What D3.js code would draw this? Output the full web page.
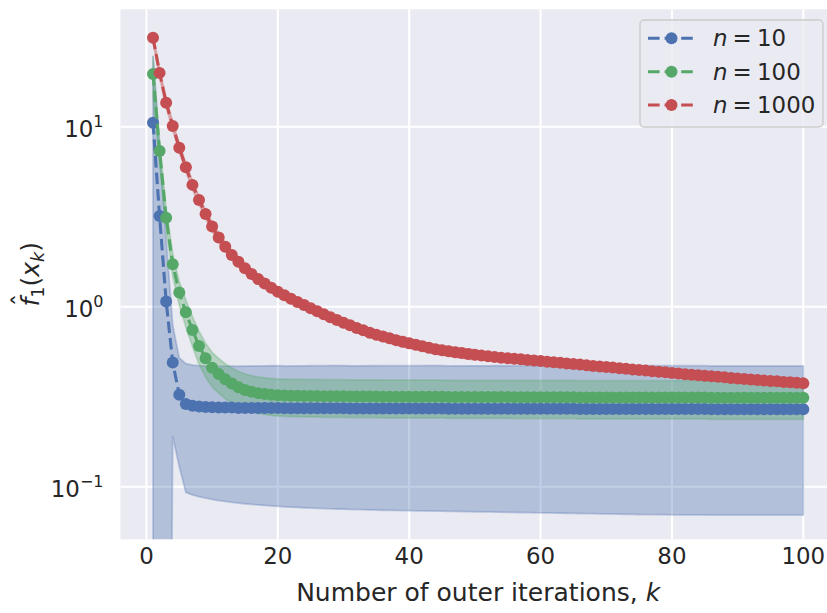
<!DOCTYPE html>
<html><head><meta charset="utf-8">
<script src="https://cdn.jsdelivr.net/npm/d3@7"></script>
<style>
body{margin:0;background:#fff}
svg{display:block}
text{font-family:"DejaVu Sans",sans-serif;fill:#262626}
</style>
</head><body>
<svg id="chart" width="827" height="613"></svg>
<script>
// ---------- data ----------
const iterations = [1,2,3,4,5,6,7,8,9,10,11,12,13,14,15,16,17,18,19,20,
21,22,23,24,25,26,27,28,29,30,31,32,33,34,35,36,37,38,39,40,
41,42,43,44,45,46,47,48,49,50,51,52,53,54,55,56,57,58,59,60,
61,62,63,64,65,66,67,68,69,70,71,72,73,74,75,76,77,78,79,80,
81,82,83,84,85,86,87,88,89,90,91,92,93,94,95,96,97,98,99,100];

const meanN10 = [10.5,3.19,1.07,0.49,0.324,0.288,0.282,0.279,0.277,0.276,
0.275,0.275,0.275,0.274,0.274,0.274,0.274,0.274,0.274,0.274,
0.273,0.273,0.273,0.273,0.273,0.273,0.273,0.273,0.273,0.273,
0.272,0.272,0.272,0.272,0.272,0.272,0.272,0.272,0.272,0.272,
0.272,0.272,0.272,0.272,0.272,0.271,0.271,0.271,0.271,0.271,
0.271,0.271,0.271,0.271,0.271,0.271,0.271,0.271,0.271,0.271,
0.271,0.271,0.271,0.271,0.271,0.270,0.270,0.270,0.270,0.270,
0.270,0.270,0.270,0.270,0.270,0.270,0.270,0.270,0.270,0.270,
0.270,0.270,0.270,0.270,0.270,0.269,0.269,0.269,0.269,0.269,
0.269,0.269,0.269,0.269,0.269,0.269,0.269,0.269,0.269,0.269];
const stdN10 = [14,4.5,1.3,0.30,0.195,0.195,0.192,0.191,0.1905,0.191,
0.1912,0.1922,0.1931,0.1929,0.1936,0.1942,0.1948,0.1953,0.1958,0.1962,
0.1956,0.1960,0.1963,0.1966,0.1969,0.1972,0.1974,0.1976,0.1978,0.1980,
0.1972,0.1974,0.1975,0.1977,0.1978,0.1980,0.1981,0.1982,0.1983,0.1984,
0.1985,0.1986,0.1987,0.1988,0.1989,0.1980,0.1981,0.1982,0.1983,0.1984,
0.1985,0.1986,0.1987,0.1988,0.1989,0.1990,0.1991,0.1992,0.1993,0.1994,
0.1995,0.1996,0.1997,0.1998,0.1999,0.1990,0.1991,0.1992,0.1993,0.1994,
0.1995,0.1996,0.1997,0.1998,0.1999,0.2000,0.2000,0.2001,0.2001,0.2002,
0.2002,0.2003,0.2003,0.2003,0.2003,0.1994,0.1994,0.1994,0.1994,0.1994,
0.1994,0.1994,0.1994,0.1994,0.1994,0.1994,0.1994,0.1994,0.1994,0.1994];

const meanN100 = [19.6,7.33,3.12,1.72,1.20,0.931,0.742,0.605,0.517,0.458,
0.423,0.395,0.374,0.357,0.345,0.337,0.331,0.327,0.324,0.322,
0.321,0.320,0.320,0.319,0.319,0.319,0.318,0.318,0.318,0.318,
0.317,0.317,0.317,0.317,0.317,0.316,0.316,0.316,0.316,0.316,
0.316,0.316,0.316,0.316,0.316,0.315,0.315,0.315,0.315,0.315,
0.315,0.315,0.315,0.315,0.315,0.314,0.314,0.314,0.314,0.314,
0.314,0.314,0.314,0.314,0.314,0.313,0.313,0.313,0.313,0.313,
0.313,0.313,0.313,0.313,0.313,0.313,0.313,0.313,0.313,0.313,
0.313,0.313,0.313,0.313,0.313,0.312,0.312,0.312,0.312,0.312,
0.312,0.312,0.312,0.312,0.312,0.312,0.312,0.312,0.312,0.312];
const stdN100 = [5.0,0.9,0.4,0.25,0.18,0.16,0.14,0.125,0.11,0.10,
0.092,0.087,0.083,0.080,0.078,0.077,0.076,0.075,0.075,0.075,
0.075,0.075,0.075,0.075,0.075,0.075,0.075,0.075,0.075,0.075,
0.075,0.075,0.075,0.075,0.075,0.075,0.075,0.075,0.075,0.075,
0.075,0.075,0.075,0.075,0.075,0.075,0.075,0.075,0.075,0.075,
0.075,0.075,0.075,0.075,0.075,0.075,0.075,0.075,0.075,0.075,
0.075,0.075,0.075,0.075,0.075,0.075,0.075,0.075,0.075,0.075,
0.075,0.075,0.075,0.075,0.075,0.075,0.075,0.075,0.075,0.075,
0.075,0.075,0.075,0.075,0.075,0.075,0.075,0.075,0.075,0.075,
0.075,0.075,0.075,0.075,0.075,0.075,0.075,0.075,0.075,0.075];

const meanN1000 = [31.2,19.9,13.6,10.1,7.64,5.95,4.75,3.92,3.27,2.79,
2.42,2.15,1.94,1.776,1.636,1.521,1.425,1.344,1.274,1.211,
1.157,1.108,1.063,1.022,0.981,0.943,0.907,0.874,0.844,0.815,
0.788,0.762,0.739,0.717,0.699,0.682,0.667,0.652,0.639,0.626,
0.614,0.603,0.591,0.580,0.573,0.566,0.559,0.553,0.546,0.541,
0.536,0.530,0.526,0.521,0.517,0.514,0.510,0.506,0.502,0.499,
0.495,0.492,0.488,0.484,0.481,0.477,0.473,0.469,0.466,0.462,
0.459,0.455,0.452,0.448,0.445,0.442,0.438,0.435,0.432,0.428,
0.425,0.422,0.419,0.416,0.413,0.411,0.408,0.405,0.402,0.399,
0.397,0.394,0.392,0.389,0.387,0.385,0.382,0.380,0.378,0.375];
const stdN1000 = [1.6,1.1,0.75,0.55,0.42,0.33,0.27,0.22,0.19,0.16,
0.14,0.125,0.11,0.10,0.09,0.085,0.08,0.075,0.07,0.065,
0.06,0.058,0.056,0.054,0.052,0.05,0.048,0.046,0.045,0.044,
0.04,0.04,0.04,0.04,0.04,0.04,0.04,0.04,0.04,0.04,
0.035,0.035,0.035,0.035,0.035,0.035,0.035,0.035,0.035,0.035,
0.02,0.02,0.02,0.02,0.02,0.02,0.02,0.02,0.02,0.02,
0.02,0.02,0.02,0.02,0.02,0.02,0.02,0.02,0.02,0.02,
0.02,0.02,0.02,0.02,0.02,0.02,0.02,0.02,0.02,0.02,
0.02,0.02,0.02,0.02,0.02,0.02,0.02,0.02,0.02,0.02,
0.02,0.02,0.02,0.02,0.02,0.02,0.02,0.02,0.02,0.02];

const seriesSizes = ["10", "100", "1000"];
const seriesColors = ["#4C72B0", "#55A868", "#C44E52"];
const xTicks = [0, 20, 40, 60, 80, 100];
const yTicks = [0.1, 1, 10];
const yTickExponents = ["\u22121", "0", "1"];
const xLabel = "Number of outer iterations, ";
const xLabelVar = "k";

// ---------- build ----------
const series = [
  {size: seriesSizes[0], color: seriesColors[0], mean: meanN10, std: stdN10},
  {size: seriesSizes[1], color: seriesColors[1], mean: meanN100, std: stdN100},
  {size: seriesSizes[2], color: seriesColors[2], mean: meanN1000, std: stdN1000}
].map(s => ({...s, pts: iterations.map((k, i) => ({k, m: s.mean[i], lo: s.mean[i] - s.std[i], hi: s.mean[i] + s.std[i]}))}));

const svg = d3.select("#chart");
const L = 120.5, R = 835.8, T = 9.3, B = 539.3;
const x = d3.scaleLinear().domain([-3.95, 104.95]).range([L, R]);
const y = d3.scaleLog().domain([0.05103, 44.88]).range([B, T]);

svg.append("defs").append("clipPath").attr("id", "plotclip")
  .append("rect").attr("x", L).attr("y", T).attr("width", R - L).attr("height", B - T);

svg.append("rect").attr("x", L).attr("y", T).attr("width", R - L).attr("height", B - T).attr("fill", "#EAEAF2");

// grid
const grid = svg.append("g").attr("stroke", "#fff").attr("stroke-width", 2.1);
grid.selectAll(".gx").data(xTicks).join("line")
  .attr("x1", d => x(d)).attr("x2", d => x(d)).attr("y1", T).attr("y2", B);
grid.selectAll(".gy").data(yTicks).join("line")
  .attr("x1", L).attr("x2", R).attr("y1", d => y(d)).attr("y2", d => y(d));

const plot = svg.append("g").attr("clip-path", "url(#plotclip)");
const clampLow = v => Math.max(v, 1e-6);

// bands
const area = d3.area().x(d => x(d.k)).y0(d => y(clampLow(d.lo))).y1(d => y(d.hi));
series.forEach(s => {
  plot.append("path").datum(s.pts).attr("d", area)
    .attr("fill", s.color).attr("fill-opacity", 0.35)
    .attr("stroke", s.color).attr("stroke-opacity", 0.3).attr("stroke-width", 1.8)
    .attr("stroke-linejoin", "round");
});

// lines + markers
const line = d3.line().x(d => x(d.k)).y(d => y(d.m));
series.forEach(s => {
  plot.append("path").datum(s.pts).attr("d", line)
    .attr("fill", "none").attr("stroke", s.color).attr("stroke-width", 3.1)
    .attr("stroke-dasharray", "11.6,5");
  plot.append("g").selectAll("circle").data(s.pts).join("circle")
    .attr("cx", d => x(d.k)).attr("cy", d => y(d.m)).attr("r", 6).attr("fill", s.color);
});

// x tick labels
svg.append("g").selectAll("text").data(xTicks).join("text")
  .attr("x", d => x(d)).attr("y", 564).attr("text-anchor", "middle")
  .attr("font-size", "22.9px").text(d => d);

// y tick labels
const yt = svg.append("g").selectAll("text").data(yTicks).join("text")
  .attr("x", 103.5).attr("y", d => y(d) + 10).attr("text-anchor", "end").attr("font-size", "22.9px");
yt.append("tspan").text("10");
yt.append("tspan").attr("font-size", "16px").attr("dy", -10).text((d, i) => yTickExponents[i]);

// x label
const xl = svg.append("text").attr("x", (L + R) / 2).attr("y", 601)
  .attr("text-anchor", "middle").attr("font-size", "25px");
xl.append("tspan").text(xLabel);
xl.append("tspan").attr("font-style", "italic").text(xLabelVar);

// y label  f^_1(x_k)
const yg = svg.append("g").attr("transform", `translate(39,${(T + B) / 2}) rotate(-90)`);
const ylab = yg.append("text").attr("x", 0).attr("y", 0).attr("text-anchor", "middle").attr("font-size", "25px");
ylab.append("tspan").attr("font-style", "italic").text("f");
ylab.append("tspan").attr("font-size", "17.5px").attr("dy", 5).text("1");
ylab.append("tspan").attr("dy", -5).text("(");
ylab.append("tspan").attr("font-style", "italic").text("x");
ylab.append("tspan").attr("font-style", "italic").attr("font-size", "17.5px").attr("dy", 5).text("k");
ylab.append("tspan").attr("dy", -5).text(")");
const ext = ylab.node().getExtentOfChar(0);
yg.append("text").attr("x", ext.x + ext.width / 2 + 2).attr("y", -9)
  .attr("text-anchor", "middle").attr("font-size", "25px").text("\u02C6");

// legend
const lg = svg.append("g");
lg.append("rect").attr("x", 640).attr("y", 20).attr("width", 183).attr("height", 107).attr("rx", 4)
  .attr("fill", "#EAEAF2").attr("fill-opacity", 0.8).attr("stroke", "#cccccc").attr("stroke-width", 1.4);
const rowY = [38.3, 71.7, 105];
series.forEach((s, i) => {
  const ry = rowY[i];
  lg.append("line").attr("x1", 648).attr("x2", 695).attr("y1", ry).attr("y2", ry)
    .attr("stroke", s.color).attr("stroke-width", 3.1).attr("stroke-dasharray", "11.6,5");
  lg.append("circle").attr("cx", 671.5).attr("cy", ry).attr("r", 6).attr("fill", s.color);
  const t = lg.append("text").attr("font-size", "22.9px").attr("y", ry + 8);
  t.append("tspan").attr("x", 713).attr("font-style", "italic").text("n");
  t.append("tspan").attr("x", 732.5).text("=");
  t.append("tspan").attr("x", 757).text(s.size);
});
</script>
</body></html>
